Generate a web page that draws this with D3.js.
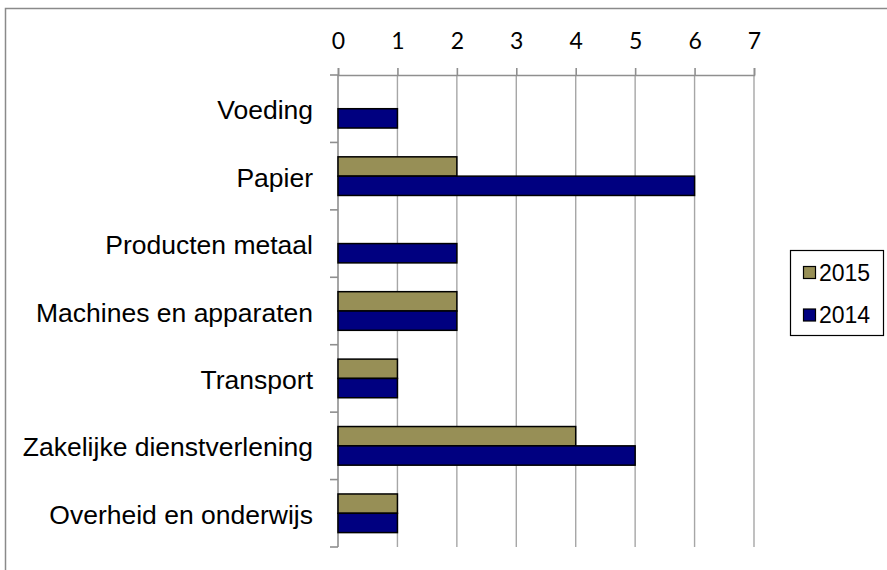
<!DOCTYPE html>
<html><head><meta charset="utf-8">
<script src="https://cdn.jsdelivr.net/npm/d3@7"></script>
<style>body{margin:0;background:#fff}svg{display:block}</style>
</head><body>
<svg id="c" width="887" height="570"></svg>
<script>
const categories = ["Voeding","Papier","Producten metaal","Machines en apparaten","Transport","Zakelijke dienstverlening","Overheid en onderwijs"];
const values2015 = [0,2,0,2,1,4,1];
const values2014 = [1,6,2,2,1,5,1];
const seriesNames = ["2015","2014"];
const xTicks = [0,1,2,3,4,5,6,7];
const colors = {"2015":"#978f56","2014":"#000080"};

const svg = d3.select("#c");
const m = {left:338, top:75, right:754, bottom:547};
// outer frame (clipped on right/bottom)
svg.append("rect").attr("x",5.5).attr("y",8.5).attr("width",1000).attr("height",1000)
  .attr("fill","none").attr("stroke","#8a8a8a").attr("stroke-width",1.5);

const x = d3.scaleLinear().domain([0,7]).range([m.left,m.right]);
const y = d3.scaleBand().domain(categories).range([m.top,m.bottom]);
const yInner = d3.scaleBand().domain(seriesNames)
  .range([y.step()*0.2135, y.step()*(1-0.2135)]).padding(0);

// gridlines
svg.append("g").selectAll("line").data(xTicks.slice(1)).join("line")
  .attr("x1",d=>x(d)).attr("x2",d=>x(d)).attr("y1",m.top).attr("y2",m.bottom)
  .attr("stroke","#a6a6a6").attr("stroke-width",1.4);

// top axis
const xAxis = d3.axisTop(x).tickValues(xTicks).tickSize(7).tickPadding(19).tickFormat(d3.format("d"));
const gx = svg.append("g").attr("transform",`translate(0,${m.top})`).call(xAxis);
gx.select(".domain").attr("stroke","#8f8f8f").attr("stroke-width",1.6);
gx.selectAll(".tick line").attr("stroke","#8f8f8f").attr("stroke-width",1.6);
gx.selectAll("text").attr("font-family","Lato, sans-serif").attr("font-size",23).attr("fill","#000").attr("dy","0");

// left axis
const yAxis = d3.axisLeft(y).tickSize(0).tickPadding(25);
const gy = svg.append("g").attr("transform",`translate(${m.left},0)`).call(yAxis);
gy.select(".domain").remove();
gy.selectAll("text").attr("font-family","Arial, 'Liberation Sans', sans-serif").attr("font-size",26.5).attr("fill","#000").attr("dy","0.4em");
svg.append("line").attr("x1",m.left).attr("x2",m.left).attr("y1",m.top).attr("y2",m.bottom)
  .attr("stroke","#8f8f8f").attr("stroke-width",1.6);
const bounds = categories.map(c=>y(c)).concat([y(categories[categories.length-1])+y.step()]);
svg.append("g").selectAll("line").data(bounds).join("line")
  .attr("x1",m.left-8).attr("x2",m.left).attr("y1",d=>d).attr("y2",d=>d)
  .attr("stroke","#8f8f8f").attr("stroke-width",1.6);

// bars
const rows = categories.map((c,i)=>({c, "2015":values2015[i], "2014":values2014[i]}));
const g = svg.append("g");
rows.forEach(r=>{
  seriesNames.forEach(s=>{
    if (r[s] > 0) {
      g.append("rect").attr("x",x(0)).attr("y",y(r.c)+yInner(s))
        .attr("width",x(r[s])-x(0)).attr("height",yInner.bandwidth())
        .attr("fill",colors[s]).attr("stroke","#000").attr("stroke-width",1.5);
    }
  });
});

// legend
const lg = svg.append("g");
lg.append("rect").attr("x",790.5).attr("y",250.5).attr("width",93).attr("height",85)
  .attr("fill","#fff").attr("stroke","#000").attr("stroke-width",1.2);
seriesNames.forEach((s,i)=>{
  const cy = 272.5 + i*42.5;
  lg.append("rect").attr("x",803.5).attr("y",cy-6).attr("width",12).attr("height",12)
    .attr("fill",colors[s]).attr("stroke","#000").attr("stroke-width",1.2);
  lg.append("text").attr("x",819).attr("y",cy).attr("dy","0.36em")
    .attr("font-family","Arial, 'Liberation Sans', sans-serif").attr("font-size",23).text(s);
});
</script>
</body></html>
